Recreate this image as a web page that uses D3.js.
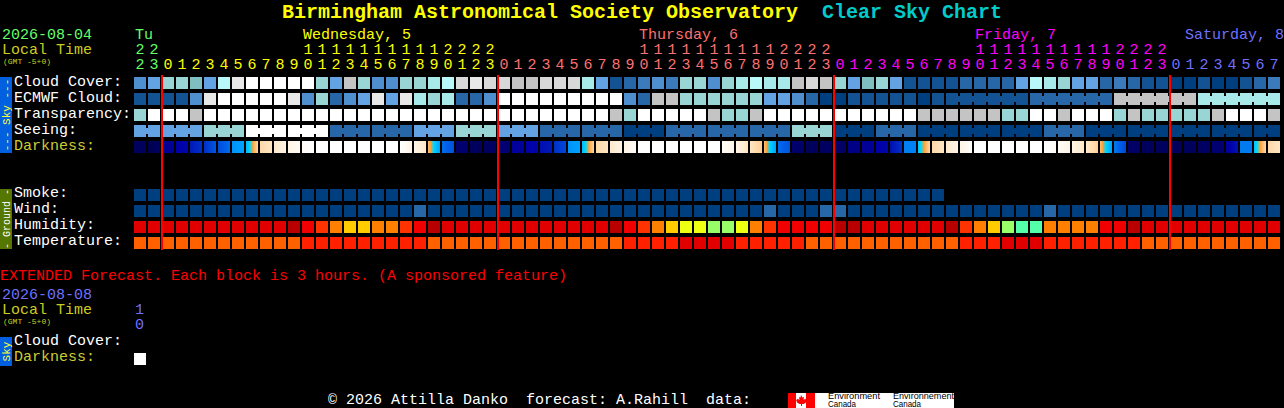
<!DOCTYPE html>
<html><head><meta charset="utf-8">
<script src="https://cdn.jsdelivr.net/npm/d3@7/dist/d3.min.js"></script>
<style>
html,body{margin:0;padding:0;background:#000;overflow:hidden}
svg{display:block}
text{font-family:"Liberation Mono",monospace;white-space:pre}
</style></head><body>
<svg id="c" width="1284" height="408"></svg>
<script>
// ---------- data ----------
const hourTicks=[22,23,0,1,2,3,4,5,6,7,8,9,10,11,12,13,14,15,16,17,18,19,20,21,22,23,
0,1,2,3,4,5,6,7,8,9,10,11,12,13,14,15,16,17,18,19,20,21,22,23,
0,1,2,3,4,5,6,7,8,9,10,11,12,13,14,15,16,17,18,19,20,21,22,23,
0,1,2,3,4,5,6,7];
const dayOfColumn=hourTicks.map((h,i)=>i<2?0:i<26?1:i<50?2:i<74?3:4);
const dayColors=["#66ff66","#ffff00","#ff7070","#ff00ff","#7070ff"];
const dayNames=["Tu","Wednesday, 5","Thursday, 6","Friday, 7","Saturday, 8"];
const dayNameColumns=[0,12,36,60,75];
const midnightColumns=[2,26,50,74];

const skyPalette=["#003f7f","#135393","#2767a7","#3b7bbb","#4f8fcf","#63a3e3","#80bfbf","#99d5d5","#a8eaea","#b8f8f8","#c4c4c4","#d8d8d8","#e8e8e8","#ffffff"];
const cloudCover=[4,5,7,7,6,5,9,12,13,13,13,13,13,7,5,10,7,4,4,7,7,8,9,11,12,11,11,10,10,11,11,11,8,5,1,2,3,4,3,7,7,4,7,8,9,8,8,10,11,10,7,5,6,7,5,1,1,1,1,2,2,2,2,5,9,8,7,5,5,2,3,2,1,1,0,0,1,0,0,1,2,3];
const ecmwfCloud=[1,1,1,1,4,12,13,13,13,13,13,12,4,7,2,4,5,12,5,12,8,7,8,2,2,4,13,13,13,13,13,13,13,13,13,4,2,10,10,7,7,7,7,7,7,5,5,4,2,0,0,1,1,1,1,1,0,1,1,1,1,1,1,1,2,2,2,2,2,2,10,10,10,10,10,10,8,8,8,8,8,8];
const transparency=[7,13,13,13,10,13,13,13,13,13,13,13,13,13,13,13,13,13,13,13,13,13,13,13,13,13,13,13,13,13,13,13,13,13,10,7,13,13,13,13,13,10,7,7,10,13,13,13,13,13,13,13,13,13,13,13,10,10,10,10,10,10,7,7,13,13,10,13,13,13,7,10,7,7,7,7,7,10,13,13,13,10];
const seeing=[5,5,5,5,5,7,7,7,13,13,13,13,13,13,2,2,2,2,2,2,5,5,5,7,7,7,5,5,5,2,2,2,2,2,2,0,0,0,2,2,2,2,2,2,2,2,2,7,7,7,0,0,0,2,2,2,0,0,0,0,0,0,0,0,0,2,2,2,0,0,0,0,0,0,0,0,0,0,0,0,0,0];
const seeingJoins=[0,2,3,5,6,8,9,11,12,14,15,17,18,20,21,23,24,26,27,29,30,32,33,35,36,38,39,41,42,44,45,47,48,50,51,53,54,56,57,59,60,62,63,65,66,68,69,71,72,74,75,77,78,80];
const ecmwfJoins=[58,59,60,61,62,64,65,66,67,68,70,71,72,73,74,76,77,78,79,80];

const darkStops=[0,1,2,3,3.6,4,5,6,7,8,9,10];
const darkColors=["#ffffff","#fff4e6","#ffe6c4","#ffcf94","#ffa030","#00d8ff","#00a0ff","#0060e8","#0030c8","#0000a8","#000070","#000050"];
const darkStart=[9.6,10,8.3,8,7.5,7,6.4,5.2,4.6,2.6,1.8,1,.3,0,0,0,0,0,0,0,1,3.2,5.8,9,9.6,9.5,9,8.2,8,7.7,7,5.2,4.5,2.6,1.8,1,0,0,0,0,0,0,.3,1,2,3.2,5.8,9,9.6,9.5,9.3,8.6,8.3,8,7.7,5.5,4.4,2.6,1.8,1,0,0,0,0,0,0,.3,1,1.8,3.2,5.6,9.3,9.6,9.6,9.7,9.6,9.4,9,8.2,5.6,4.4,2.6];
const darkEnd=[9.6,9.5,8.3,7.9,7,6.2,5.8,5,2.8,2,1,.5,0,0,0,0,0,0,0,1,1.8,5,6.3,9.1,9.6,9.5,9,8.2,7.9,7.5,6.5,5,2.9,2,1,.3,0,0,0,0,0,0,1,2,3,5,6.3,9.2,9.6,9.5,9.3,8.6,8.3,7.9,7,5.5,2.8,2,1,.2,0,0,0,0,0,.3,1,1.8,3,5,6.5,9.3,9.6,9.6,9.7,9.6,9.4,9,7.6,5.6,2.8,2];

const smoke=d3.range(58).map(()=>0);
const windLevels=[0,0,0,0,0,0,0,0,0,0,0,0,0,0,0,0,0,0,0,0,2,0,0,0,0,0,0,0,0,0,0,0,0,0,0,0,0,0,0,0,0,0,0,0,0,2,0,0,0,2,2,0,0,0,0,0,0,0,0,0,0,0,0,0,0,2,0,0,0,0,0,0,0,0,0,0,0,0,0,0,0,0];
const humidityPalette=["#b80000","#e00000","#f00000","#ff3300","#ff8000","#ffcc00","#eeff11","#99ff66","#55ffaa"];
const humidity=[1,1,1,1,1,1,1,1,1,1,1,0,2,3,4,5,5,4,4,3,2,0,1,1,1,1,1,1,1,1,1,1,1,1,0,2,3,4,5,6,6,7,7,6,4,3,2,2,2,2,0,0,1,1,1,1,1,1,0,3,4,5,7,8,8,4,4,4,4,2,2,0,1,1,1,1,1,1,1,1,1,1];
const tempPalette=["#e00000","#ff2000","#ff6000"];
const temperature=[2,2,2,2,2,2,2,2,2,2,2,2,1,1,1,1,1,1,1,1,1,2,2,2,2,2,2,2,2,2,2,2,2,2,2,1,1,1,1,0,0,0,0,1,1,1,1,1,2,2,2,2,2,2,2,2,2,2,2,1,1,1,0,0,0,1,1,1,1,1,1,1,2,2,2,2,2,2,2,2,2,2];

const rowLabels=["Cloud Cover:","ECMWF Cloud:","Transparency:","Seeing:","Darkness:"];
const groundLabels=["Smoke:","Wind:","Humidity:","Temperature:"];

// ---------- drawing ----------
const svg=d3.select("#c");
const x=d3.scaleBand().domain(d3.range(82)).range([134,134+14*82-2]).paddingInner(2/14).paddingOuter(0);
const sky=d3.scaleOrdinal(d3.range(skyPalette.length),skyPalette);
const hum=d3.scaleOrdinal(d3.range(humidityPalette.length),humidityPalette);
const tmp=d3.scaleOrdinal(d3.range(tempPalette.length),tempPalette);
const dark=d3.scaleLinear().domain(darkStops).range(darkColors).interpolate(d3.interpolateRgb);

const txt=(s,px,py,size,fill,weight)=>svg.append("text").attr("x",px).attr("y",py)
  .attr("font-size",size).attr("fill",fill).attr("font-weight",weight||"normal").text(s);

// title
txt("Birmingham Astronomical Society Observatory",282,18,20,"#ffff00","bold");
txt("Clear Sky Chart",822,18,20,"#00cccc","bold");

// header
txt("2026-08-04",2,39,15,"#66ff66");
txt("Local Time",2,54,15,"#cccc22");
txt("(GMT -5+0)",3,64,8,"#cccc22");
svg.selectAll("text.day").data(dayNames).join("text").attr("class","day")
  .attr("x",(d,i)=>x(dayNameColumns[i])+1).attr("y",39).attr("font-size",15)
  .attr("fill",(d,i)=>dayColors[i]).text(d=>d);

function hourAxis(y,fmt,cols){
  const g=svg.append("g").attr("transform",`translate(0,${y})`)
    .call(d3.axisTop(x).tickValues(cols).tickSize(0).tickPadding(0).tickFormat(fmt));
  g.select(".domain").remove();
  g.attr("font-family",null).attr("font-size",null);
  g.selectAll("text").attr("font-size",15).attr("fill",i=>dayColors[dayOfColumn[i]]);
}
const allCols=d3.range(82);
hourAxis(54,i=>Math.floor(hourTicks[i]/10),allCols.filter(i=>hourTicks[i]>=10));
hourAxis(69,i=>hourTicks[i]%10,allCols);

// side bars
function sideBar(y0,y1,fill,label,color,size){
  svg.append("rect").attr("x",0).attr("y",y0).attr("width",12).attr("height",y1-y0).attr("fill",fill).attr("shape-rendering","crispEdges");
  svg.append("text").attr("transform",`translate(10,${(y0+y1)/2}) rotate(-90)`).attr("text-anchor","middle")
    .attr("font-size",size).attr("fill",color).text(label);
}
sideBar(77,153,"#0060e0","--- Sky ---","#ffff33",11);
sideBar(189,249,"#557700","- Ground -","#ffffff",10);
sideBar(337,366,"#0060e0","Sky","#ffff33",11);

// row labels
rowLabels.forEach((s,i)=>txt(s,14,86+16*i,15,i==4?"#cccc33":"#ffffff"));
groundLabels.forEach((s,i)=>txt(s,14,197+16*i,15,"#ffffff"));

// cells
function row(name,vals,y,color,joins){
  const g=svg.append("g").attr("class",name).attr("shape-rendering","crispEdges");
  g.selectAll("rect.cell").data(vals).join("rect").attr("class","cell")
    .attr("x",(d,i)=>x(i)).attr("y",y).attr("width",x.bandwidth()).attr("height",12).attr("fill",color);
  if(joins) g.selectAll("rect.join").data(joins).join("rect").attr("class","join")
    .attr("x",i=>x(i)+x.bandwidth()).attr("y",y+3).attr("width",x.step()-x.bandwidth()).attr("height",6).attr("fill",i=>color(vals[i]));
}
row("cloud",cloudCover,77,sky);
row("ecmwf",ecmwfCloud,93,sky,ecmwfJoins);
row("transp",transparency,109,sky);
row("seeing",seeing,125,sky,seeingJoins);
row("smoke",smoke,189,sky);
row("wind",windLevels,205,sky);
row("humidity",humidity,221,hum);
row("temperature",temperature,237,tmp);

// darkness gradients
const defs=svg.append("defs");
darkStart.forEach((a,i)=>{
  const b=darkEnd[i], lg=defs.append("linearGradient").attr("id","dk"+i);
  d3.range(0,1.001,.1).forEach(t=>lg.append("stop").attr("offset",t).attr("stop-color",dark(a+(b-a)*t)));
});
svg.append("g").attr("shape-rendering","crispEdges").selectAll("rect").data(darkStart).join("rect")
  .attr("x",(d,i)=>x(i)).attr("y",141).attr("width",x.bandwidth()).attr("height",12).attr("fill",(d,i)=>`url(#dk${i})`);

// midnight lines
svg.append("g").attr("shape-rendering","crispEdges").selectAll("rect").data(midnightColumns).join("rect")
  .attr("x",c=>x(c)-1).attr("y",75).attr("width",2).attr("height",175).attr("fill","#ff0000");

// extended forecast
txt("EXTENDED Forecast. Each block is 3 hours. (A sponsored feature)",0,280,15,"#ff0000");
txt("2026-08-08",2,299,15,"#7070ff");
txt("Local Time",2,314,15,"#cccc22");
txt("(GMT -5+0)",3,324,8,"#cccc22");
txt("1",135,314,15,"#7070ff");
txt("0",135,329,15,"#7070ff");
txt("Cloud Cover:",14,345,15,"#ffffff");
txt("Darkness:",14,361,15,"#cccc33");
svg.append("rect").attr("x",x(0)).attr("y",353).attr("width",x.bandwidth()).attr("height",12).attr("fill",dark(0)).attr("shape-rendering","crispEdges");

// footer
txt("© 2026 Attilla Danko  forecast: A.Rahill  data:",328,404,15,"#ffffff");
const logo=svg.append("g");
logo.append("rect").attr("x",788).attr("y",393).attr("width",166).attr("height",15).attr("fill","#ffffff");
logo.append("rect").attr("x",788).attr("y",393).attr("width",8).attr("height",15).attr("fill","#ff0000");
logo.append("rect").attr("x",806).attr("y",393).attr("width",9).attr("height",15).attr("fill","#ff0000");
logo.append("path").attr("d","M801 395l1.5 2.5 1.5-.5-.5 3 2-1.500.5 1.500 1-.5-1 3-2.500 1.500h-1.500v2h-1v-2h-1.500l-2.500-1.500-1-3 1 .5.500-1.500 2 1.500-.5-3 1.500 .5z").attr("fill","#ff0000");
[["Environment",828,52],["Environnement",893,61]].forEach(d=>{
  svg.append("text").attr("x",d[1]).attr("y",399).attr("font-size",9).attr("fill","#000").attr("textLength",d[2]).attr("lengthAdjust","spacingAndGlyphs").attr("style","font-family:'Liberation Sans'").text(d[0]);
  svg.append("text").attr("x",d[1]).attr("y",407).attr("font-size",9).attr("fill","#000").attr("textLength",28).attr("lengthAdjust","spacingAndGlyphs").attr("style","font-family:'Liberation Sans'").text("Canada");
});
</script></body></html>
